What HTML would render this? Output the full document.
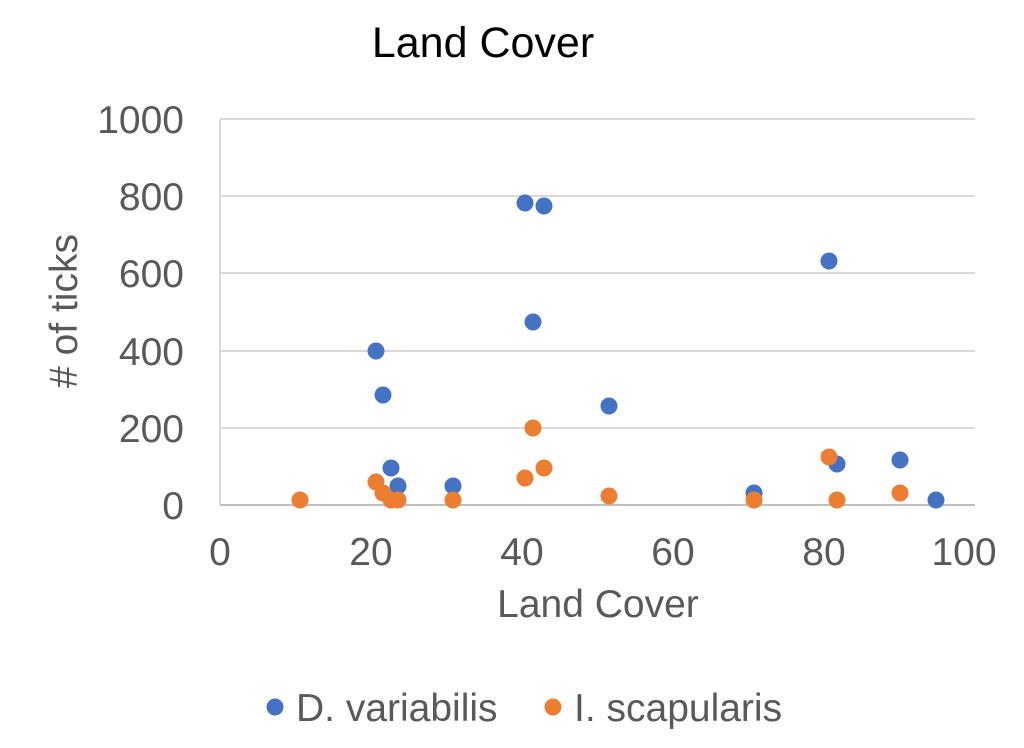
<!DOCTYPE html>
<html><head><meta charset="utf-8"><style>
body{margin:0;background:#fff;}
svg{display:block;font-family:"Liberation Sans",sans-serif;}
</style></head><body>
<svg width="1024" height="748" viewBox="0 0 1024 748">
<rect width="1024" height="748" fill="#fff"/>
<text x="483" y="57" font-size="43" text-anchor="middle" fill="#000">Land Cover</text>
<g stroke="#d9d9d9" stroke-width="2">
<line x1="220" y1="119" x2="975" y2="119"/>
<line x1="220" y1="196" x2="975" y2="196"/>
<line x1="220" y1="273" x2="975" y2="273"/>
<line x1="220" y1="351" x2="975" y2="351"/>
<line x1="220" y1="428" x2="975" y2="428"/>
<line x1="220" y1="119" x2="220" y2="505"/>
</g>
<line x1="220" y1="505" x2="975" y2="505" stroke="#bfbfbf" stroke-width="2"/>
<g font-size="39" fill="#595959" text-anchor="end">
<text x="184" y="133">1000</text>
<text x="184" y="210">800</text>
<text x="184" y="287">600</text>
<text x="184" y="365">400</text>
<text x="184" y="442">200</text>
<text x="184" y="519">0</text>
</g>
<g font-size="39" fill="#595959" text-anchor="middle">
<text x="220" y="565">0</text>
<text x="371" y="565">20</text>
<text x="522" y="565">40</text>
<text x="673" y="565">60</text>
<text x="824" y="565">80</text>
<text x="964" y="565">100</text>
<text x="598" y="617">Land Cover</text>
</g>
<text transform="translate(77,311) rotate(-90)" font-size="39" fill="#595959" text-anchor="middle">#  of ticks</text>
<g fill="#4472C4">
<circle cx="376" cy="351" r="8.5"/><circle cx="383" cy="395" r="8.5"/><circle cx="391" cy="468" r="8.5"/>
<circle cx="398" cy="486" r="8.5"/><circle cx="453" cy="486" r="8.5"/><circle cx="525" cy="203" r="8.5"/>
<circle cx="544" cy="206" r="8.5"/><circle cx="533" cy="322" r="8.5"/><circle cx="609" cy="406" r="8.5"/>
<circle cx="754" cy="493" r="8.5"/><circle cx="829" cy="261" r="8.5"/><circle cx="837" cy="464" r="8.5"/>
<circle cx="900" cy="460" r="8.5"/><circle cx="936" cy="500" r="8.5"/>
</g>
<g fill="#ED7D31">
<circle cx="300" cy="500" r="8.5"/><circle cx="376" cy="482" r="8.5"/><circle cx="383" cy="493" r="8.5"/>
<circle cx="391" cy="500" r="8.5"/><circle cx="398" cy="500" r="8.5"/><circle cx="453" cy="500" r="8.5"/>
<circle cx="525" cy="478" r="8.5"/><circle cx="533" cy="428" r="8.5"/><circle cx="544" cy="468" r="8.5"/>
<circle cx="609" cy="496" r="8.5"/><circle cx="754" cy="500" r="8.5"/><circle cx="829" cy="457" r="8.5"/>
<circle cx="837" cy="500" r="8.5"/><circle cx="900" cy="493" r="8.5"/>
</g>
<circle cx="275" cy="707" r="8.5" fill="#4472C4"/>
<text x="296" y="721" font-size="39" fill="#595959">D. variabilis</text>
<circle cx="553" cy="707" r="8.5" fill="#ED7D31"/>
<text x="574" y="721" font-size="39" fill="#595959">I. scapularis</text>
</svg>
</body></html>
